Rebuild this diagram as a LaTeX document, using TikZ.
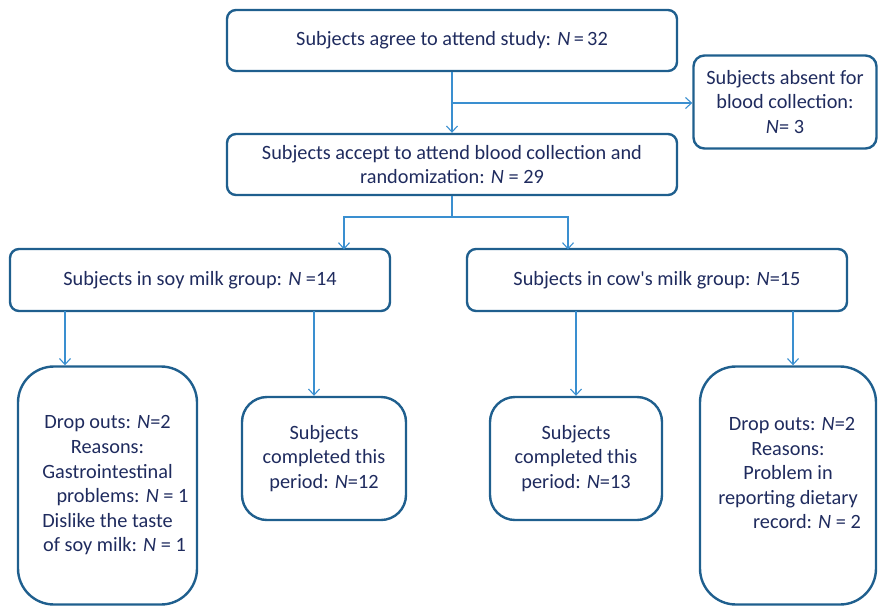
\documentclass[tikz,border=0pt]{standalone}
\usepackage{fontspec}
\setmainfont{Carlito}
\usetikzlibrary{arrows.meta}
\definecolor{boxc}{HTML}{1F5F8E}
\definecolor{txtc}{HTML}{1F2B5E}
\definecolor{arrc}{HTML}{3A8FD0}
\begin{document}
\begin{tikzpicture}[x=1pt,y=-1pt,
  font=\fontsize{20.3}{24.6}\selectfont, text=txtc,
  box/.style={draw=boxc, line width=2.4pt, inner sep=0pt, align=center},
  conn/.style={draw=arrc, line width=1.1pt},
  arr/.style={conn, -{Straight Barb[length=6pt,width=11pt,line width=1.1pt]}}]
\useasboundingbox (0,0) rectangle (878,606);
\node[box, rounded corners=9pt, minimum width=450pt, minimum height=61pt] (top) at (452,40.5) {Subjects agree to attend study: \textit{N}\,=\,32};
\node[box, rounded corners=11pt, minimum width=183pt, minimum height=93pt] (abs) at (785,102) {Subjects absent for\\blood collection:\\\textit{N}= 3};
\node[box, rounded corners=9pt, minimum width=450pt, minimum height=61pt] (acc) at (452,164.5) {Subjects accept to attend blood collection and\\randomization: \textit{N} = 29};
\node[box, rounded corners=9pt, minimum width=380pt, minimum height=62pt] (soy) at (200,280) {Subjects in soy milk group: \textit{N} =14};
\node[box, rounded corners=9pt, minimum width=380pt, minimum height=62pt] (cow) at (657,280) {Subjects in cow\textquotesingle s milk group: \textit{N}=15};
\node[box, rounded corners=36pt, minimum width=179pt, minimum height=238pt] (dsoy) at (107.5,485.5) {Drop outs: \textit{N}=2\\Reasons:\\Gastrointestinal\\\hspace*{30pt}problems: \textit{N} = 1\\Dislike the taste\\\hspace*{14pt}of soy milk: \textit{N} = 1};
\node[box, rounded corners=25pt, minimum width=164pt, minimum height=123pt] (csoy) at (324,458.5) {Subjects\\completed this\\period: \textit{N}=12};
\node[box, rounded corners=25pt, minimum width=172pt, minimum height=123pt] (ccow) at (576,458.5) {Subjects\\completed this\\period: \textit{N}=13};
\node[box, rounded corners=36pt, minimum width=176pt, minimum height=238pt] (dcow) at (788,485.5) {\hspace*{8pt}Drop outs: \textit{N}=2\\Reasons:\\Problem in\\reporting dietary\\\hspace*{38pt}record: \textit{N} = 2\\\mbox{}};
% connectors
\coordinate (j1) at (452,103);
\coordinate (j2) at (452,217);
\draw[arr] (top.south) -- (acc.north);
\draw[arr] (j1) -- (abs.west |- j1);
\draw[conn] (acc.south) -- (j2);
\draw[arr] (j2) -| (344,249.5) coordinate (s1);
\draw[arr] (j2) -| (568,249.5) coordinate (s2);
\draw[arr] (65,311) -- (dsoy.north -| 65,0);
\draw[arr] (314,311) -- (csoy.north -| 314,0);
\draw[arr] (576,311) -- (ccow.north -| 576,0);
\draw[arr] (793,311) -- (dcow.north -| 793,0);
\end{tikzpicture}
\end{document}
